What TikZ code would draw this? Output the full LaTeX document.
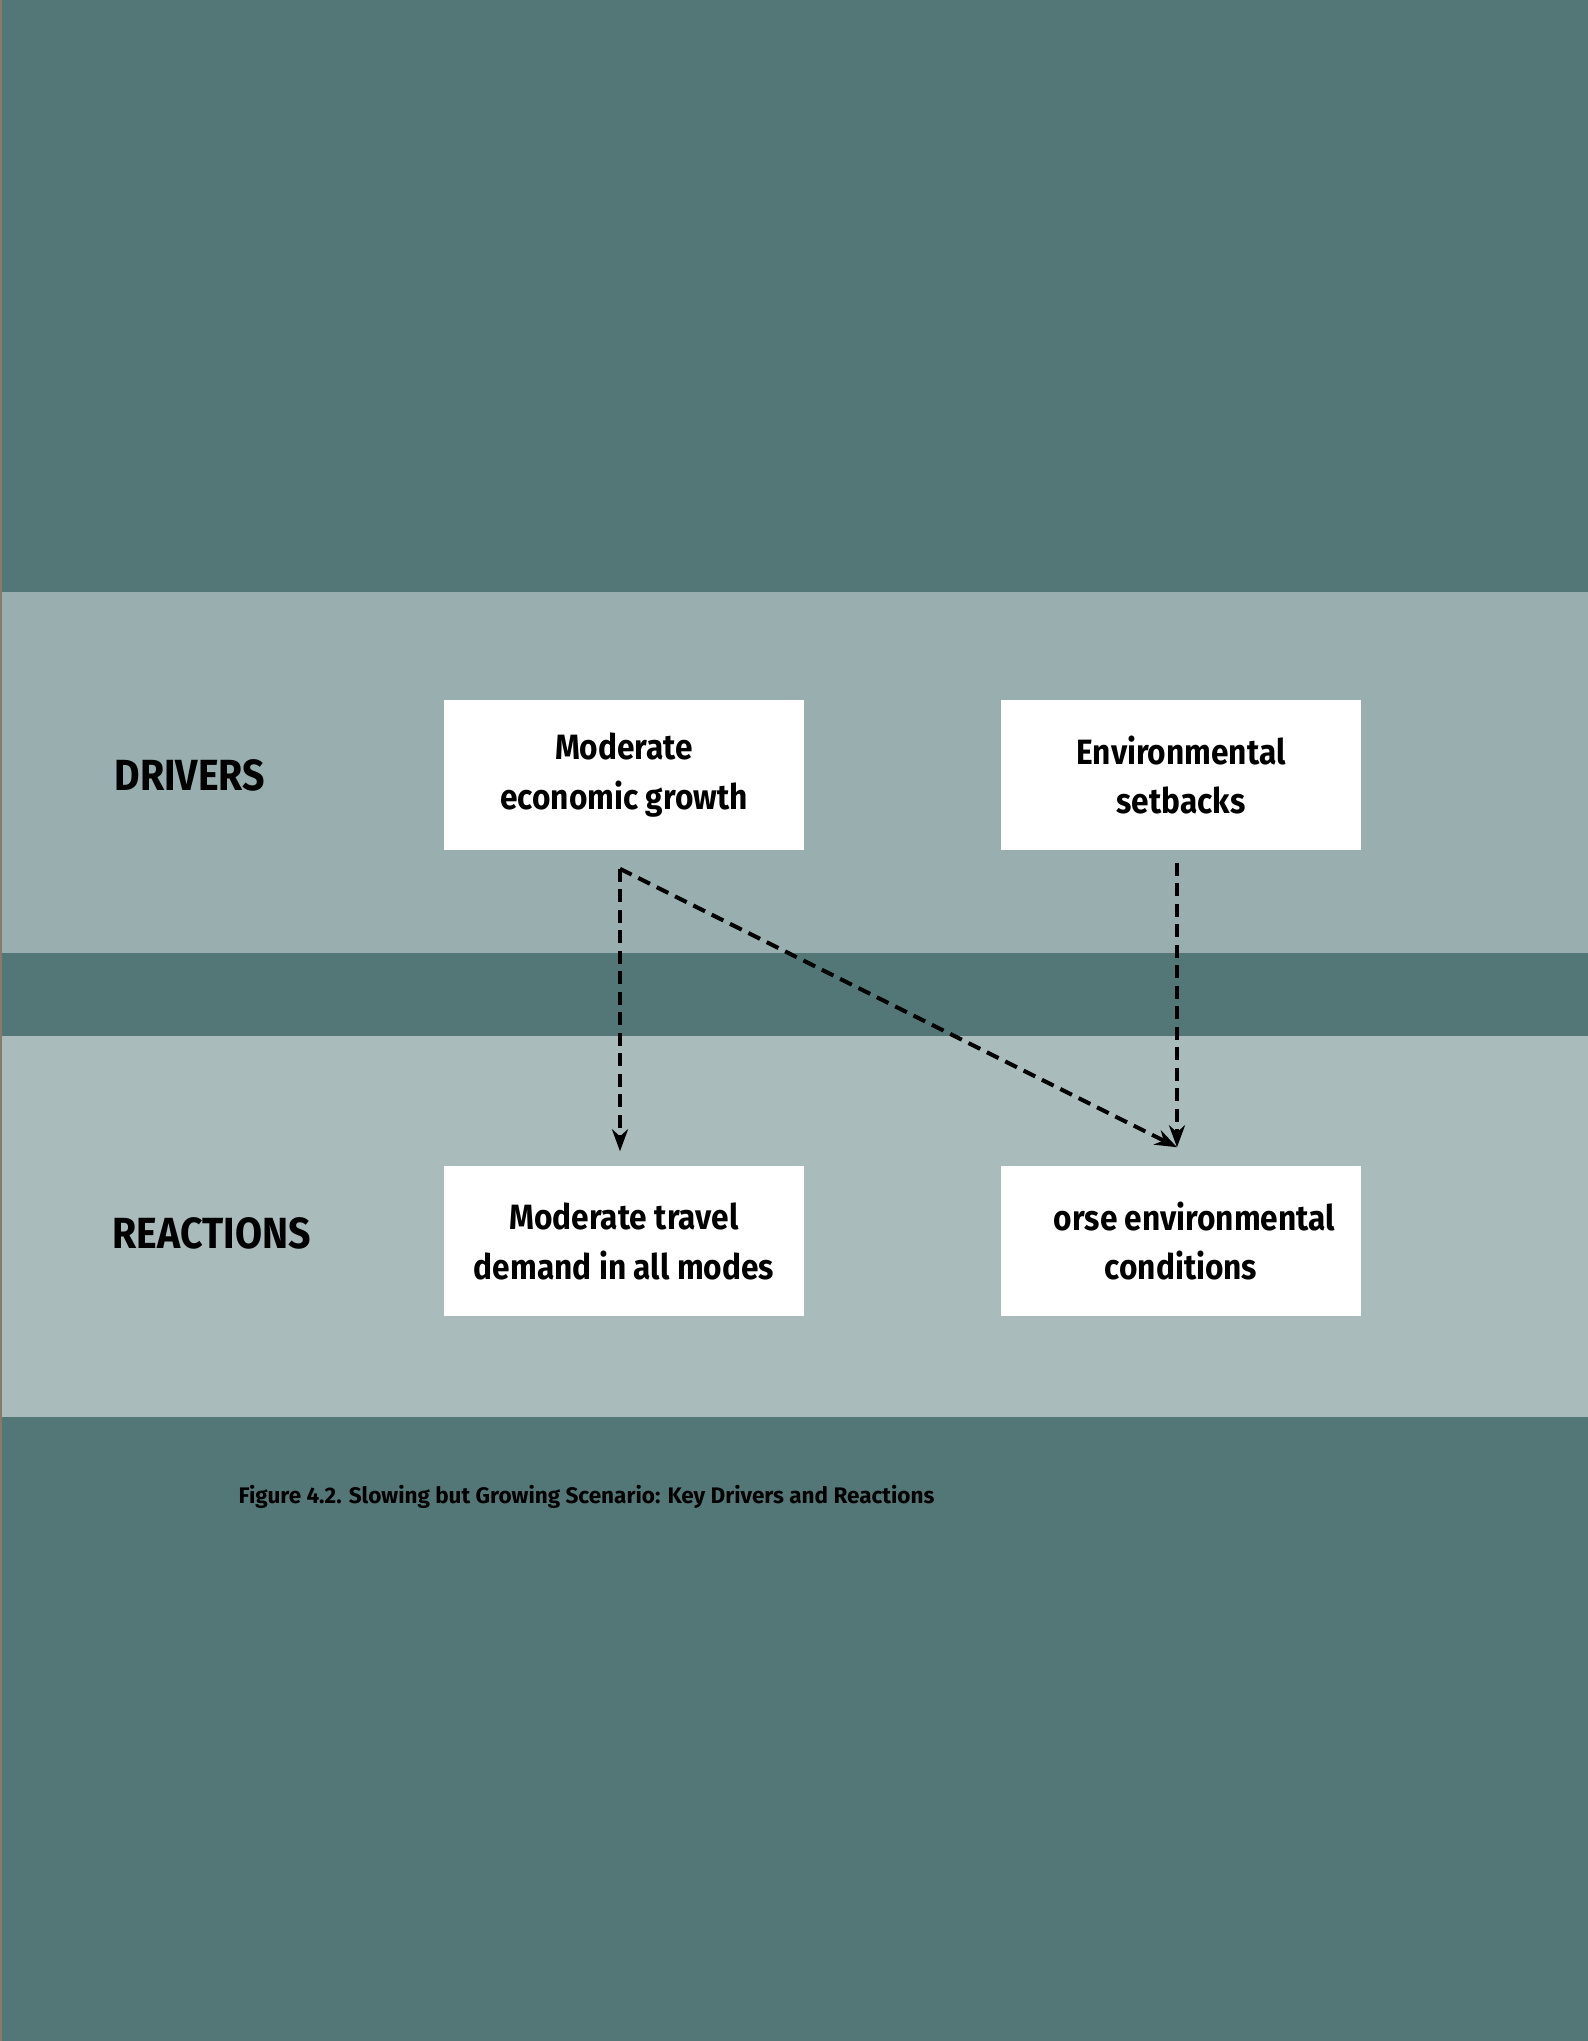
\documentclass[tikz,border=0pt]{standalone}
\usepackage{fontspec}
\setmainfont{Fira Sans}
\newfontfamily\condfont{Fira Sans}[FakeStretch=0.9]
\usetikzlibrary{arrows.meta,positioning}

\definecolor{darkteal}{HTML}{537777}
\definecolor{driverband}{HTML}{98AEAF}
\definecolor{reactband}{HTML}{A9BBBB}
\definecolor{pageedge}{HTML}{8A7A68}

\tikzstyle{factor}=[rectangle, fill=white, minimum width=3.6cm, minimum height=1.5cm, inner sep=0pt, align=center, font=\condfont\bfseries\fontsize{10}{14.2}\selectfont]
\tikzstyle{rowlabel}=[anchor=west, inner sep=0pt, font=\condfont\bfseries\fontsize{12.4}{14}\selectfont]
\tikzstyle{link}=[dash pattern=on 0.13cm off 0.075cm, line width=0.04cm, -{Stealth[length=0.22cm,width=0.16cm]}]

\begin{document}
\begin{tikzpicture}[x=0.01cm, y=-0.01cm]

\useasboundingbox (0,0) rectangle (1588,2041);
\fill[darkteal] (0,0) rectangle (1588,2041);
\fill[driverband] (0,592) rectangle (1588,953);
\fill[reactband] (0,1036) rectangle (1588,1417);
\draw[pageedge, line width=0.02cm] (1,0) -- (1,2041);

\node[rowlabel] (drivers) at (114,775) {DRIVERS};
\node[rowlabel] (reactions) at (112,1233) {REACTIONS};

\node[factor] (growth) at (624,775) {Moderate\\economic growth};
\node[factor] (setbacks) at (1181,775) {Environmental\\setbacks};

\node[factor] (travel) at (624,1241) {Moderate travel\\demand in all modes};
\node[factor] (worse) at (1181,1241) {\hphantom{W}orse environmental\\conditions};

\coordinate (fork) at ([xshift=-0.04cm,yshift=-0.18cm]growth.south);
\draw[link] (fork) -- ([xshift=-0.04cm,yshift=0.14cm]travel.north);
\draw[link] (fork) -- ([xshift=-0.04cm,yshift=0.18cm]worse.north);
\draw[link] ([xshift=-0.04cm,yshift=-0.12cm]setbacks.south) -- ([xshift=-0.04cm,yshift=0.18cm]worse.north);

\node[anchor=base west, inner sep=0pt, font=\bfseries\fontsize{6.4}{7.5}\selectfont] (caption) at (238,1503) {Figure 4.2. Slowing but Growing Scenario: Key Drivers and Reactions};
\end{tikzpicture}
\end{document}
